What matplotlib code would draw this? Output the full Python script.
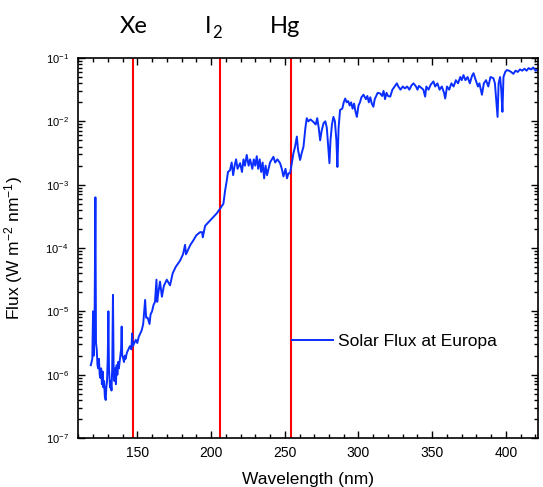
import matplotlib
matplotlib.use("Agg")
import matplotlib.pyplot as plt
import numpy as np
from matplotlib.ticker import MultipleLocator, LogLocator, NullFormatter

plt.rcParams['font.family'] = ['Liberation Sans', 'DejaVu Sans']
plt.rcParams['mathtext.fontset'] = 'custom'
plt.rcParams['mathtext.rm'] = 'Liberation Sans'
plt.rcParams['mathtext.it'] = 'Liberation Sans:italic'

# wavelength (nm) and log10 of flux (W m-2 nm-1)
wavelength = [
    118.5, 119.0, 119.5, 120.0, 120.5, 121.0, 121.6, 122.0, 122.5, 123.0,
    123.5, 124.0, 124.5, 125.0, 125.5, 126.0, 126.5, 127.0, 127.5, 128.0,
    128.6, 129.0, 129.5, 130.0, 130.4, 130.8, 131.5, 132.0, 132.5, 133.0,
    133.5, 134.0, 134.5, 135.0, 135.5, 136.0, 136.5, 137.0, 137.5, 138.0,
    139.0, 139.4, 139.8, 140.5, 141.0, 141.5, 142.0, 143.0, 144.0, 145.0,
    146.0, 146.5, 147.0, 148.0, 149.0, 150.0, 151.0, 152.0, 153.0, 154.0,
    155.3, 156.0, 157.0, 158.3, 159.0, 160.0, 161.0, 162.0, 163.0, 163.5,
    164.0, 165.4, 166.7, 168.0, 170.0, 172.2, 174.0, 176.0, 177.8, 179.0,
    180.0, 181.0, 182.4, 183.0, 184.0, 186.0, 188.0, 190.0, 192.6, 194.0,
    194.4, 196.0, 198.0, 200.0, 202.0, 204.0, 205.5, 207.0, 208.4, 209.5,
    210.7, 211.5, 212.9, 214.0, 215.0, 216.0, 217.0, 218.0, 219.7, 221.0,
    222.0, 223.0, 224.2, 225.5, 226.5, 228.0, 229.0, 230.0, 231.0, 232.0,
    233.0, 234.0, 235.0, 236.0, 237.0, 238.0, 239.0, 240.0, 242.3, 243.5,
    245.0, 246.8, 248.0, 249.1, 250.5, 251.5, 252.5, 253.6, 254.5, 255.9,
    257.0, 258.2, 259.0, 260.4, 261.5, 262.7, 264.0, 264.9, 266.0, 267.5,
    269.4, 271.0, 272.0, 273.0, 274.0, 275.0, 276.3, 277.5, 278.5, 279.5,
    280.3, 281.0, 282.0, 283.0, 284.0, 285.0, 285.7, 286.5, 287.5, 289.0,
    290.0, 291.0, 292.0, 293.0, 294.0, 295.0, 296.0, 297.0, 298.0, 298.9,
    300.0, 301.0, 302.0, 303.4, 305.0, 306.0, 307.0, 308.0, 309.0, 310.1,
    311.0, 312.0, 313.0, 314.7, 316.0, 317.0, 318.0, 319.0, 320.0, 321.5,
    323.0, 324.5, 326.0, 327.0, 328.5, 330.0, 331.5, 333.0, 334.5, 336.0,
    337.3, 339.0, 340.0, 341.0, 344.0, 345.2, 346.0, 347.5, 349.0, 350.8,
    352.0, 353.5, 355.0, 356.5, 358.0, 358.8, 360.0, 361.5, 363.0, 364.5,
    366.0, 367.5, 369.0, 370.0, 371.2, 372.5, 374.0, 375.5, 377.0, 378.0,
    379.5, 381.0, 382.0, 383.7, 385.0, 386.5, 388.0, 389.5, 391.5, 392.5,
    393.5, 394.3, 395.0, 396.0, 396.8, 397.6, 398.3, 399.5, 400.6, 402.0,
    403.5, 405.0, 406.5, 408.0, 409.5, 411.0, 412.5, 414.0, 415.3, 417.0,
    418.5, 420.0, 421.0,
]
log_flux = [
    -5.85, -5.80, -5.75, -5.00, -5.70, -5.30, -3.20, -5.50, -5.60, -5.85,
    -5.90, -5.75, -6.00, -6.05, -5.90, -6.15, -5.95, -6.20, -6.10, -6.35,
    -6.40, -6.20, -6.10, -5.70, -5.00, -5.90, -6.20, -6.10, -6.25, -5.90,
    -4.74, -6.00, -6.10, -5.90, -6.15, -5.85, -6.00, -5.80, -5.90, -5.80,
    -5.60, -5.24, -5.70, -5.75, -5.80, -5.70, -5.75, -5.65, -5.60, -5.55,
    -5.60, -5.35, -5.55, -5.50, -5.45, -5.50, -5.40, -5.35, -5.30, -5.20,
    -4.82, -5.10, -5.10, -5.20, -5.05, -5.00, -4.90, -4.85, -4.50, -4.85,
    -4.75, -4.53, -4.77, -4.60, -4.50, -4.59, -4.40, -4.30, -4.24, -4.20,
    -4.15, -4.10, -3.95, -4.10, -4.05, -3.95, -3.88, -3.80, -3.75, -3.75,
    -3.83, -3.65, -3.60, -3.55, -3.50, -3.45, -3.40, -3.35, -3.30, -3.10,
    -2.93, -2.80, -2.77, -2.65, -2.85, -2.70, -2.60, -2.75, -2.66, -2.80,
    -2.60, -2.70, -2.53, -2.70, -2.60, -2.75, -2.60, -2.70, -2.55, -2.75,
    -2.60, -2.80, -2.65, -2.90, -2.70, -2.85, -2.75, -2.65, -2.56, -2.65,
    -2.60, -2.66, -2.75, -2.87, -2.75, -2.90, -2.82, -2.82, -2.70, -2.50,
    -2.40, -2.24, -2.45, -2.61, -2.50, -2.40, -2.10, -1.95, -2.00, -1.97,
    -2.01, -2.05, -1.95, -2.10, -2.30, -2.15, -2.03, -2.00, -2.10, -2.40,
    -2.66, -2.30, -2.05, -1.93, -2.00, -2.30, -2.72, -2.10, -1.82, -1.80,
    -1.70, -1.64, -1.70, -1.68, -1.75, -1.70, -1.80, -1.72, -1.85, -1.93,
    -1.75, -1.70, -1.62, -1.58, -1.65, -1.60, -1.70, -1.62, -1.72, -1.77,
    -1.65, -1.60, -1.55, -1.56, -1.60, -1.52, -1.65, -1.55, -1.60, -1.61,
    -1.50, -1.45, -1.40, -1.45, -1.50, -1.45, -1.48, -1.45, -1.50, -1.43,
    -1.40, -1.45, -1.50, -1.44, -1.50, -1.61, -1.45, -1.50, -1.42, -1.37,
    -1.45, -1.40, -1.50, -1.45, -1.55, -1.64, -1.45, -1.50, -1.40, -1.45,
    -1.35, -1.40, -1.30, -1.35, -1.27, -1.35, -1.30, -1.40, -1.28, -1.24,
    -1.35, -1.45, -1.40, -1.58, -1.40, -1.35, -1.45, -1.30, -1.32, -1.40,
    -1.70, -1.93, -1.40, -1.30, -1.50, -1.85, -1.30, -1.22, -1.19, -1.20,
    -1.22, -1.25, -1.20, -1.22, -1.18, -1.20, -1.17, -1.20, -1.16, -1.18,
    -1.15, -1.20, -1.19,
]
lamp_lines = [147, 206, 254]
lamp_names = ["Xe", "I", "Hg"]

flux = 10.0 ** np.array(log_flux)

fig = plt.figure(figsize=(5.43, 4.87), dpi=100)
ax = fig.add_axes([0.1442, 0.1006, 0.846, 0.7803])

for x in lamp_lines:
    ax.axvline(x, color='#ff0000', lw=1.5, zorder=1)
ax.plot(wavelength, flux, color='#0a2eff', lw=1.4, label='Solar Flux at Europa', zorder=2)

ax.set_yscale('log')
ax.set_xlim(110, 421.5)
ax.set_ylim(1e-7, 1e-1)
ax.xaxis.set_major_locator(MultipleLocator(50))
ax.xaxis.set_minor_locator(MultipleLocator(10))
ax.yaxis.set_major_locator(LogLocator(base=10, numticks=10))
ax.yaxis.set_minor_locator(LogLocator(base=10, subs=np.arange(2, 10), numticks=20))
ax.yaxis.set_minor_formatter(NullFormatter())

ax.tick_params(which='both', direction='in', top=True, right=True, width=1.0)
ax.tick_params(which='major', length=5)
ax.tick_params(which='minor', length=2.8)
ax.tick_params(axis='x', labelsize=10, pad=6)
ax.tick_params(axis='y', labelsize=8, pad=7)
for s in ax.spines.values():
    s.set_linewidth(1.2)

ax.set_xlabel('Wavelength (nm)', fontsize=12.5, labelpad=8.5)
ax.set_ylabel(r'Flux (W m$^{-2}$ nm$^{-1}$)', fontsize=12.5)
ax.yaxis.set_label_coords(-0.116, 0.5)

ax.legend(loc='center left', bbox_to_anchor=(0.465, 0.255), frameon=False,
          fontsize=12.5, borderpad=0, borderaxespad=0, handlelength=2.35,
          handletextpad=0.3)

# lamp labels above the plot
lab_kw = dict(transform=ax.get_xaxis_transform(), fontsize=17,
              family=['Lato', 'DejaVu Sans'], va='baseline', clip_on=False)
ax.text(147.5, 1.066, lamp_names[0], ha='center', **lab_kw)
ax.text(198, 1.066, lamp_names[1], ha='center', **lab_kw)
ax.text(203.8, 1.053, "2", ha='center', transform=ax.get_xaxis_transform(),
        fontsize=12, family=['Lato', 'DejaVu Sans'], va='baseline', clip_on=False)
ax.text(250.2, 1.066, lamp_names[2], ha='center', **lab_kw)

fig.savefig('out.png', dpi=100)
